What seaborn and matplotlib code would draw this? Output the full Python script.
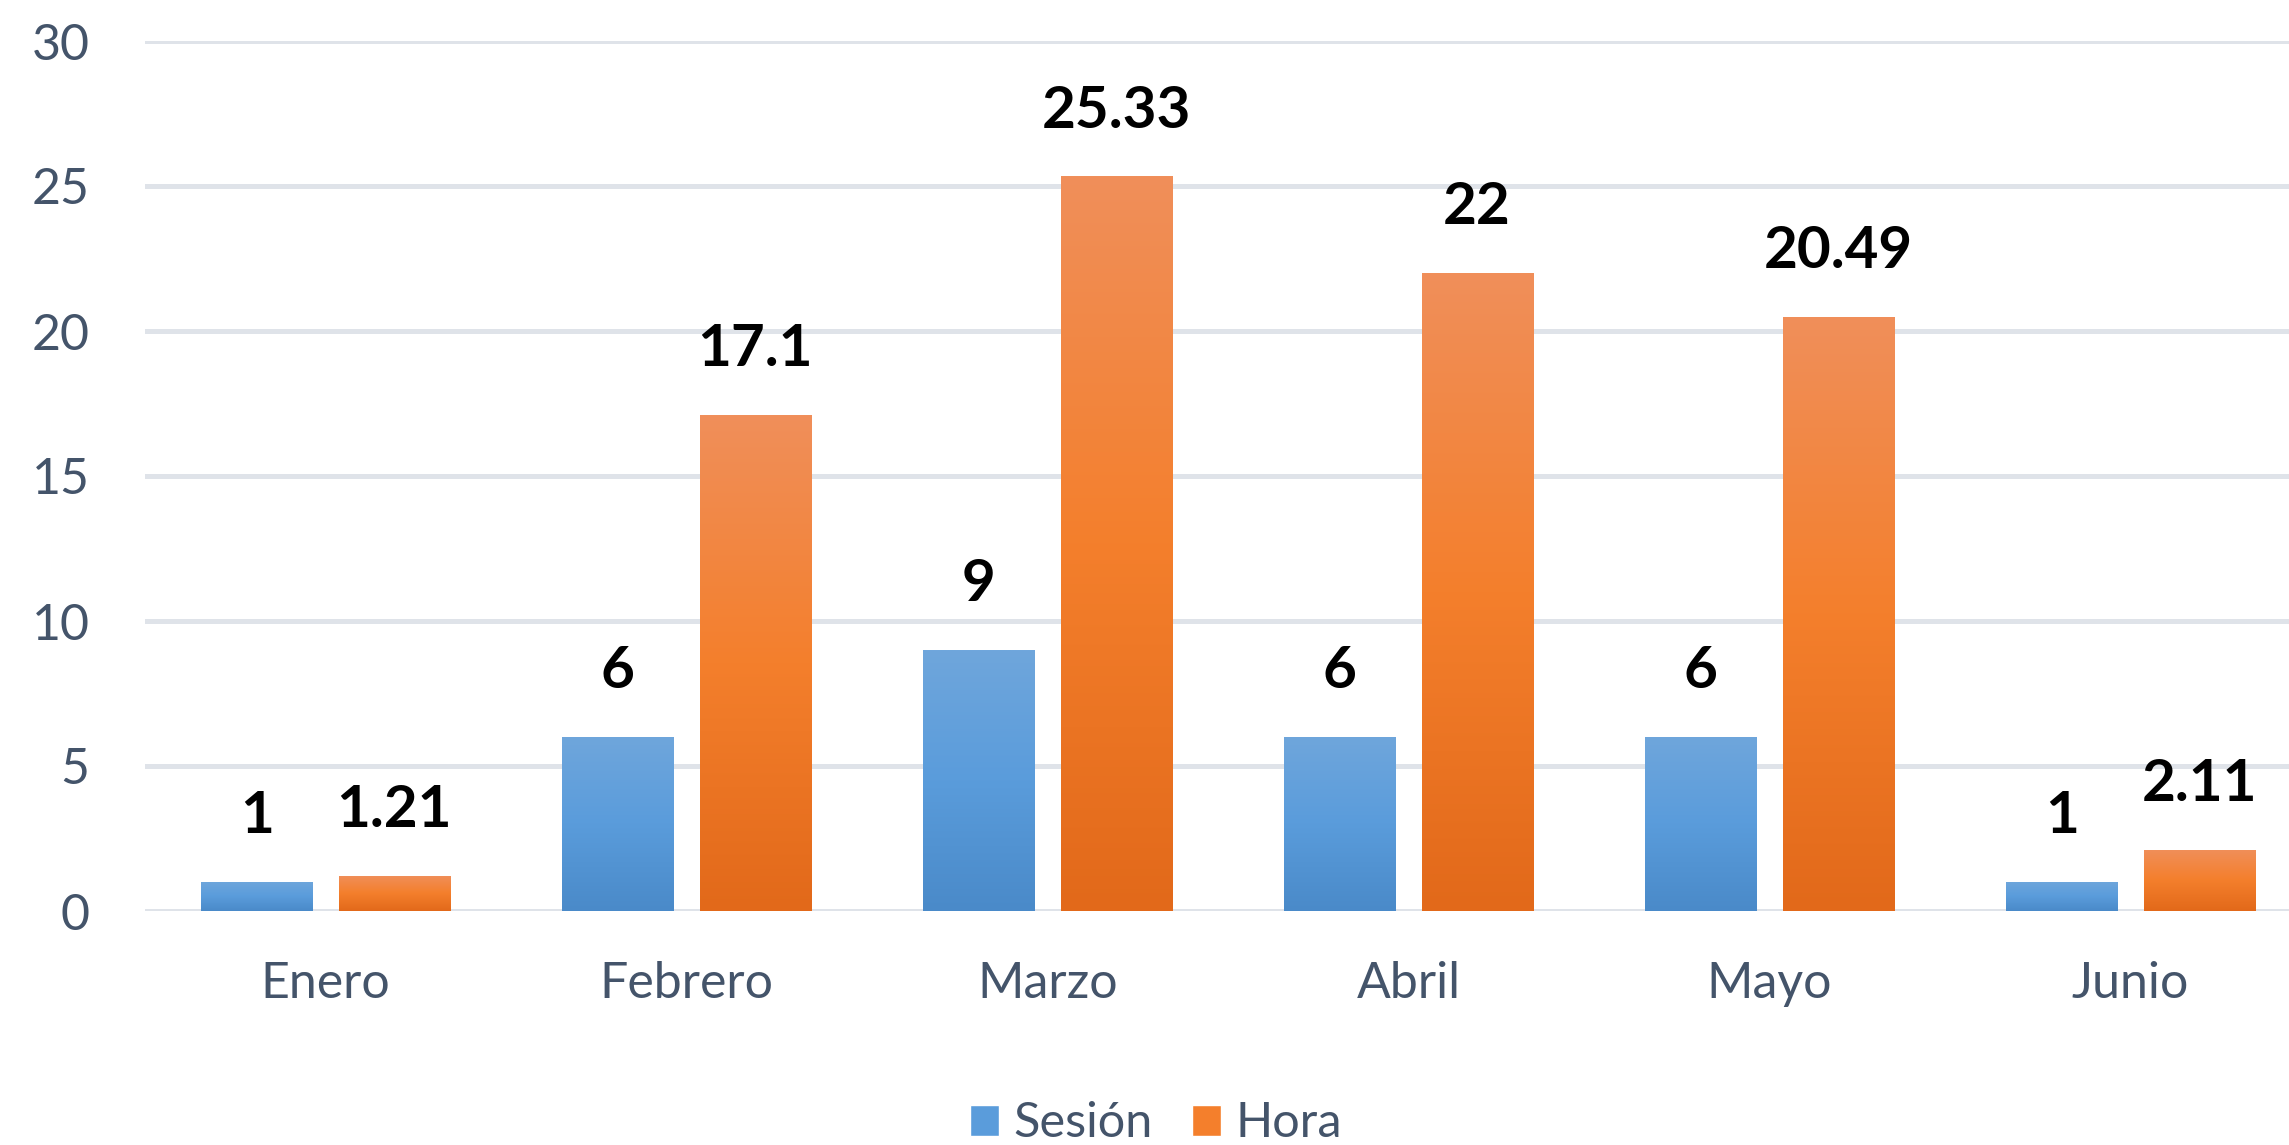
import matplotlib
matplotlib.use("Agg")
import matplotlib.pyplot as plt
import numpy as np
import pandas as pd
import seaborn as sns
from matplotlib.colors import LinearSegmentedColormap
from matplotlib.patches import Patch

# data
meses = ['Enero', 'Febrero', 'Marzo', 'Abril', 'Mayo', 'Junio']
sesion = [1, 6, 9, 6, 6, 1]
hora = [1.21, 17.1, 25.33, 22, 20.49, 2.11]
sesion_labels = ['1', '6', '9', '6', '6', '1']
hora_labels = ['1.21', '17.1', '25.33', '22', '20.49', '2.11']

df = pd.DataFrame({
    'mes': meses * 2,
    'valor': sesion + hora,
    'serie': ['Sesión'] * len(meses) + ['Hora'] * len(meses),
})

sns.set_style('white')
plt.rcParams['font.family'] = ['Lato', 'DejaVu Sans']

text_col = '#44546a'
grid_col = '#dfe3e9'
blue_grad = ['#6fa6dc', '#5a9cdb', '#4a8ac9']
orange_grad = ['#f08f5a', '#f47f2c', '#e2691a']

fig = plt.figure(figsize=(22.89, 11.45), dpi=100)
ax = fig.add_axes([145 / 2289, 1 - 911 / 1145, 2166 / 2289, 870 / 1145])

sns.barplot(data=df, x='mes', y='valor', hue='serie', order=meses,
            hue_order=['Sesión', 'Hora'], palette=['#5a9cdb', '#f47f2c'],
            width=0.76, gap=0.19, saturation=1, legend=False, ax=ax)

ax.set_yticks(range(0, 31, 5))
ax.yaxis.grid(True, color=grid_col, linewidth=3.6)
ax.set_axisbelow(True)
for s in ax.spines.values():
    s.set_visible(False)
ax.set_xlabel('')
ax.set_ylabel('')
ax.tick_params(axis='y', length=0, pad=40, labelsize=36, labelcolor=text_col)
ax.tick_params(axis='x', length=0, pad=36, labelsize=36, labelcolor=text_col)

# vertical gradient inside every bar
cmaps = [LinearSegmentedColormap.from_list('b', blue_grad[::-1]),
         LinearSegmentedColormap.from_list('o', orange_grad[::-1])]
grad = np.linspace(0, 1, 256).reshape(-1, 1)
for cont, cmap, labels in zip(ax.containers, cmaps, [sesion_labels, hora_labels]):
    for bar, lab in zip(cont, labels):
        x0, w, h = bar.get_x(), bar.get_width(), bar.get_height()
        im = ax.imshow(grad, cmap=cmap, origin='lower', aspect='auto',
                       extent=[x0, x0 + w, 0, h], zorder=2)
        im.set_clip_path(bar)
        bar.set_alpha(0)
        ax.annotate(lab, (x0 + w / 2, h), xytext=(0, 35),
                    textcoords='offset points', ha='center', va='baseline',
                    fontsize=42, fontweight='bold', color='black')
ax.set_xlim(-0.5, 5.5)
ax.set_ylim(0, 30)

handles = [Patch(facecolor=blue_grad[1]), Patch(facecolor=orange_grad[1])]
fig.legend(handles, ['Sesión', 'Hora'], loc='center',
           bbox_to_anchor=(0.505, 0.019), ncol=2, frameon=False,
           fontsize=35, labelcolor=text_col, handlelength=0.6,
           handleheight=0.6, handletextpad=0.3, columnspacing=0.8)

fig.savefig('out.png', dpi=100)
